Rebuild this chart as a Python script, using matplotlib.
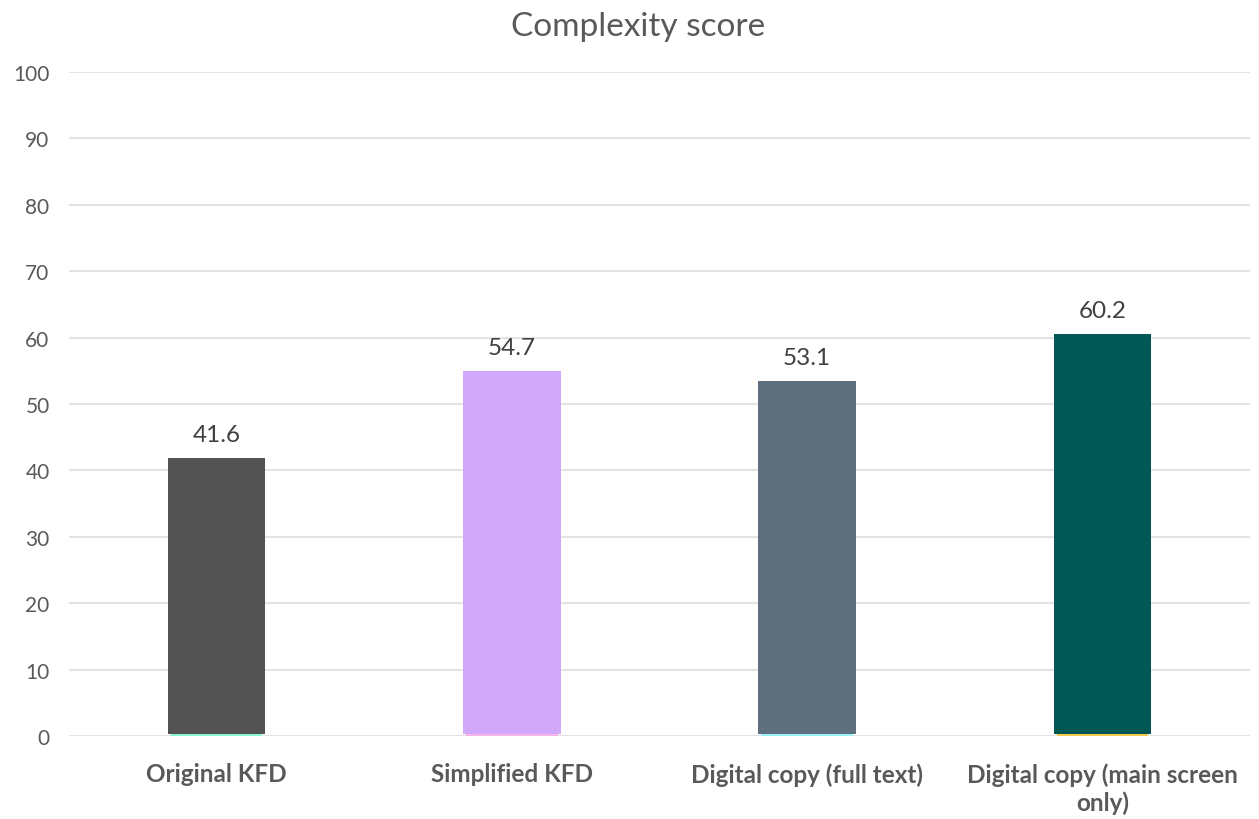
import matplotlib
matplotlib.use("Agg")
import matplotlib.pyplot as plt

categories = ["Original KFD", "Simplified KFD", "Digital copy (full text)",
              "Digital copy (main screen\nonly)"]
scores = [41.6, 54.7, 53.1, 60.2]
bar_colors = ["#535353", "#D2A9FA", "#5F6F7E", "#005753"]
accent_colors = ["#8CF5D2", "#F9B4EA", "#9AF0F2", "#F2C94C"]
accent_values = [0.3, 0.3, 0.3, 0.3]
y_ticks = list(range(0, 101, 10))

plt.rcParams["font.family"] = ["Lato", "DejaVu Sans"]
text_color = "#595959"

fig = plt.figure(figsize=(12.59, 8.2), dpi=100)
ax = fig.add_axes([0.0548, 0.1012, 0.9381, 0.8098])

x = list(range(len(categories)))
# thin accent series at the base, main series stacked on top of it
ax.bar(x, accent_values, width=0.31, color=accent_colors, zorder=2)
ax.bar(x, scores, width=0.33, bottom=accent_values, color=bar_colors, zorder=2)

for xi, v, b in zip(x, scores, accent_values):
    ax.text(xi, v + b + 2.0, f"{v:.1f}", ha="center", va="bottom",
            fontsize=17.5, color="#404040")

ax.set_xlim(-0.5, len(categories) - 0.5)
ax.set_ylim(0, 100)
ax.set_yticks(y_ticks)
ax.set_yticklabels([str(t) for t in y_ticks], fontsize=15, color=text_color)
ax.set_xticks(x)
ax.set_xticklabels(categories, fontsize=17.5, fontweight="bold", color=text_color,
                   linespacing=1.25)
ax.tick_params(axis="both", length=0)
ax.tick_params(axis="y", pad=14)
ax.tick_params(axis="x", pad=19)

ax.grid(axis="y", color="#E3E3E3", linewidth=1.5, zorder=0)
ax.set_axisbelow(True)
for s in ax.spines.values():
    s.set_visible(False)

fig.text(0.5066, 0.967, "Complexity score", ha="center", va="center",
         fontsize=24, color=text_color)

fig.savefig("out.png", dpi=100)
